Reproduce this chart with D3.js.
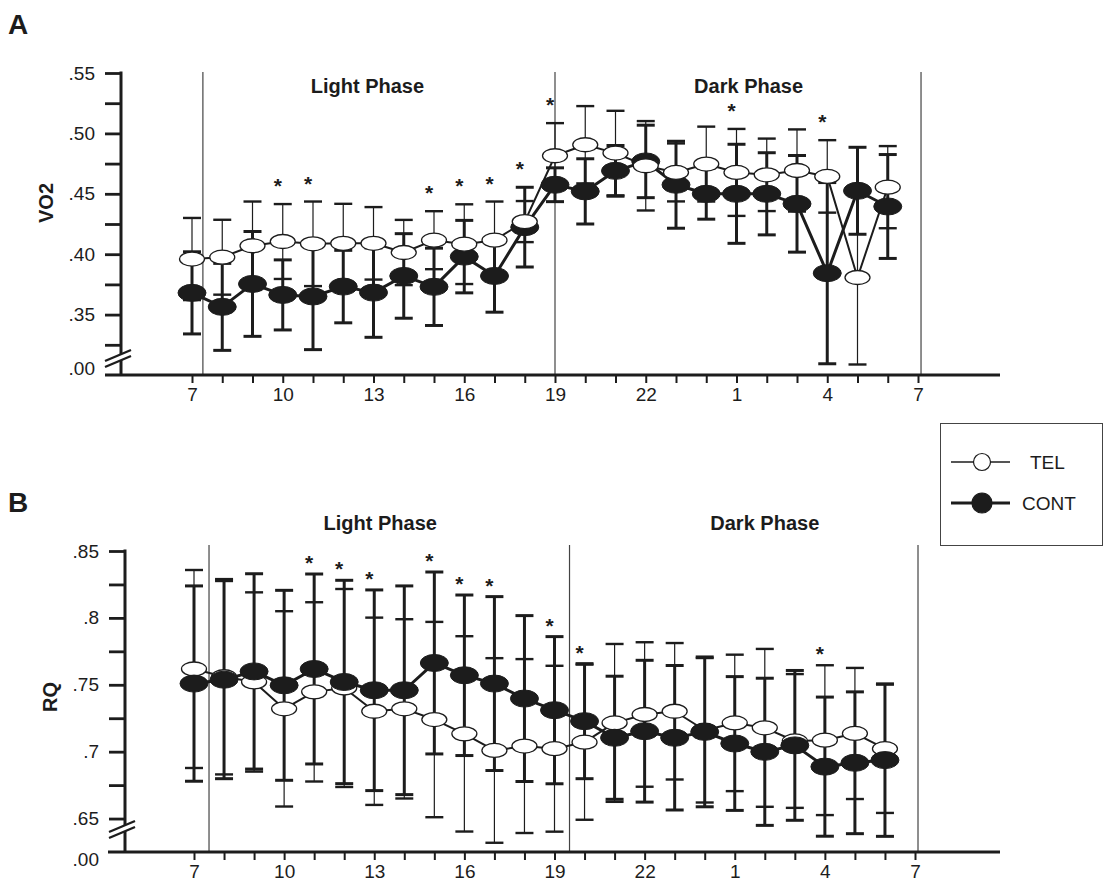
<!DOCTYPE html>
<html>
<head>
<meta charset="utf-8">
<script src="https://cdn.jsdelivr.net/npm/d3@7"></script>
<style>
  body { margin: 0; background: #fff; }
  svg { font-family: "Liberation Sans", Arial, sans-serif; }
</style>
</head>
<body>
<div id="chart"></div>
<script>
// hours of the day, 7 am to 6 am next morning
const hourLabels = [7, 8, 9, 10, 11, 12, 13, 14, 15, 16, 17, 18, 19, 20, 21, 22, 23, 0, 1, 2, 3, 4, 5, 6];
const xTickLabels = ["7", "10", "13", "16", "19", "22", "1", "4", "7"];

// panel A: VO2
const vo2Tel     = [0.396, 0.3975, 0.407, 0.4105, 0.4086, 0.409, 0.409, 0.4014, 0.4116, 0.4083, 0.4116, 0.427,
                    0.4815, 0.4906, 0.4837, 0.4732, 0.4677, 0.4746, 0.4677, 0.4657, 0.4693, 0.4644, 0.3807, 0.4555];
const vo2TelErr  = [0.034, 0.031, 0.0366, 0.031, 0.035, 0.0327, 0.030, 0.027, 0.024, 0.033, 0.032, 0.017,
                    0.027, 0.032, 0.035, 0.037, 0.024, 0.031, 0.036, 0.030, 0.034, 0.030, 0.072, 0.034];
const vo2Cont    = [0.368, 0.3564, 0.3754, 0.3663, 0.365, 0.3732, 0.3682, 0.382, 0.373, 0.398, 0.382, 0.4224,
                    0.4575, 0.452, 0.469, 0.4768, 0.4575, 0.45, 0.45, 0.45, 0.4417, 0.3843, 0.4525, 0.4395];
const vo2ContErr = [0.034, 0.036, 0.0434, 0.029, 0.044, 0.030, 0.037, 0.035, 0.032, 0.030, 0.030, 0.033,
                    0.014, 0.027, 0.021, 0.030, 0.036, 0.021, 0.041, 0.034, 0.040, 0.075, 0.036, 0.043];
const vo2Stars   = [10, 11, 15, 16, 17, 18, 19, 1, 4];
const vo2Majors  = [0.35, 0.40, 0.45, 0.50, 0.55];
const vo2Minors  = [0.325, 0.375, 0.425, 0.475, 0.525];

// panel B: RQ
const rqTel      = [0.7618, 0.756, 0.7521, 0.732, 0.7447, 0.7476, 0.7302, 0.732, 0.724, 0.7133, 0.7009, 0.7042,
                    0.7022, 0.7071, 0.7215, 0.7278, 0.7302, 0.716, 0.7215, 0.7178, 0.708, 0.7086, 0.7136, 0.7022];
const rqTelErr   = [0.074, 0.073, 0.067, 0.073, 0.067, 0.074, 0.070, 0.067, 0.073, 0.073, 0.069, 0.065,
                    0.062, 0.058, 0.059, 0.054, 0.051, 0.054, 0.051, 0.059, 0.050, 0.056, 0.049, 0.048];
const rqCont     = [0.7509, 0.7538, 0.760, 0.7496, 0.7618, 0.7521, 0.7459, 0.7459, 0.7663, 0.7571, 0.7509, 0.7397,
                    0.731, 0.7228, 0.7104, 0.7153, 0.7104, 0.7148, 0.7061, 0.6999, 0.7047, 0.6888, 0.6917, 0.6937];
const rqContErr  = [0.073, 0.074, 0.073, 0.071, 0.071, 0.076, 0.075, 0.078, 0.068, 0.060, 0.065, 0.062,
                    0.055, 0.043, 0.046, 0.053, 0.054, 0.056, 0.050, 0.055, 0.056, 0.052, 0.053, 0.057];
const rqStars    = [11, 12, 13, 15, 16, 17, 19, 20, 4];
const rqMajors   = [0.65, 0.7, 0.75, 0.8, 0.85];
const rqMinors   = [0.675, 0.725, 0.775, 0.825];

const ink = "#1c1c1c";

const svg = d3.select("#chart")
    .append("svg")
    .attr("width", 1104)
    .attr("height", 884);

function drawPanel(p) {
    const g = svg.append("g");
    const x = d3.scaleLinear().domain([0, 24]).range(p.xRange);
    const y = d3.scaleLinear().domain(p.yDomain).range([p.bottom, p.top]);

    // panel letter and y label
    g.append("text").attr("x", 8).attr("y", p.letterY)
        .attr("font-size", 28).attr("font-weight", "bold").attr("fill", ink).text(p.letter);
    g.append("text")
        .attr("transform", `translate(${p.labelX}, ${p.labelY}) rotate(-90)`)
        .attr("text-anchor", "middle").attr("dy", "0.35em")
        .attr("font-size", 20).attr("font-weight", "bold").attr("fill", ink).text(p.yLabel);

    // light / dark boundaries
    g.selectAll(".phase").data(p.phaseAt).join("line")
        .attr("x1", d => x(d)).attr("x2", d => x(d))
        .attr("y1", p.phaseTop).attr("y2", p.bottom)
        .attr("stroke", "#444").attr("stroke-width", 1.2);
    g.selectAll(".ptitle").data(p.phaseTitles).join("text")
        .attr("x", d => x(d.at)).attr("y", p.titleY)
        .attr("text-anchor", "middle").attr("font-size", 20).attr("font-weight", "bold")
        .attr("fill", ink).text(d => d.name);

    // y axis
    const yAxis = d3.axisLeft(y)
        .tickValues(p.majors.concat(p.minors))
        .tickSize(16).tickPadding(10)
        .tickFormat(d => p.majors.includes(d) ? d3.format(p.fmt)(d).replace(/^0/, "") : "");
    const ya = g.append("g").attr("transform", `translate(${p.left},0)`).call(yAxis);
    ya.select(".domain").remove();
    ya.selectAll(".tick line").attr("stroke", ink).attr("stroke-width", 2.8);
    ya.selectAll(".tick text").attr("font-size", 19).attr("fill", ink);
    g.append("line").attr("x1", p.left).attr("x2", p.left)
        .attr("y1", p.top - 1.5).attr("y2", p.bottom)
        .attr("stroke", ink).attr("stroke-width", 3);
    g.append("text").attr("x", p.left - 26).attr("y", p.zeroY)
        .attr("text-anchor", "end").attr("font-size", 19).attr("fill", ink).text(".00");

    // axis break
    const bx0 = p.left - 16, bx1 = p.left + 10, by = p.breakY;
    g.append("polygon")
        .attr("points", `${bx0},${by + 6} ${bx1},${by - 5} ${bx1},${by + 1} ${bx0},${by + 12}`)
        .attr("fill", "#fff");
    [0, 6].forEach(o => {
        g.append("line").attr("x1", bx0).attr("y1", by + 6 + o).attr("x2", bx1).attr("y2", by - 5 + o)
            .attr("stroke", ink).attr("stroke-width", 2.4);
    });

    // x axis
    const xAxis = d3.axisBottom(x)
        .tickValues(d3.range(25))
        .tickSize(8).tickPadding(5)
        .tickFormat(i => i % 3 === 0 ? xTickLabels[i / 3] : "");
    const xa = g.append("g").attr("transform", `translate(0,${p.bottom})`).call(xAxis);
    xa.select(".domain").remove();
    xa.selectAll(".tick line").attr("stroke", ink).attr("stroke-width", 2);
    xa.selectAll(".tick text").attr("font-size", 19).attr("fill", ink);
    g.append("line").attr("x1", p.axisFrom).attr("x2", p.axisTo)
        .attr("y1", p.bottom).attr("y2", p.bottom)
        .attr("stroke", ink).attr("stroke-width", 3.2);

    const series = [
        { vals: p.tel, errs: p.telErr, open: true, lw: 2, ew: 1.2, rx: 12.5, ry: 7 },
        { vals: p.cont, errs: p.contErr, open: false, lw: 3, ew: 3, rx: 14, ry: 8.5 }
    ];

    // error bars
    series.forEach(s => {
        const eb = g.append("g");
        s.vals.forEach((v, i) => {
            const lo = y(v - s.errs[i]), hi = y(v + s.errs[i]), cx = x(i);
            eb.append("line").attr("x1", cx).attr("x2", cx).attr("y1", lo).attr("y2", hi)
                .attr("stroke", ink).attr("stroke-width", s.ew);
            [lo, hi].forEach(yy => {
                eb.append("line").attr("x1", cx - 9).attr("x2", cx + 9).attr("y1", yy).attr("y2", yy)
                    .attr("stroke", ink).attr("stroke-width", s.open ? 2.4 : 3);
            });
        });
    });

    // connecting lines
    const line = d3.line().x((d, i) => x(i)).y(d => y(d));
    series.forEach(s => {
        g.append("path").attr("d", line(s.vals))
            .attr("fill", "none").attr("stroke", ink).attr("stroke-width", s.lw)
            .attr("stroke-linejoin", "round");
    });

    // markers, order decides which sits on top
    const order = p.contOnTop ? [series[0], series[1]] : [series[1], series[0]];
    order.forEach(s => {
        g.append("g").selectAll("ellipse").data(s.vals).join("ellipse")
            .attr("cx", (d, i) => x(i)).attr("cy", d => y(d))
            .attr("rx", s.rx).attr("ry", s.ry)
            .attr("fill", s.open ? "#fff" : ink)
            .attr("stroke", ink).attr("stroke-width", s.open ? 1.3 : 1);
    });

    // significance marks
    g.selectAll(".star").data(p.stars).join("text")
        .attr("x", h => x(hourLabels.indexOf(h)) - 5)
        .attr("y", h => {
            const i = hourLabels.indexOf(h);
            const top = Math.max(p.tel[i] + p.telErr[i], p.cont[i] + p.contErr[i]);
            return y(top) - p.starGap + 11;
        })
        .attr("text-anchor", "middle").attr("font-size", 21).attr("font-weight", "bold")
        .attr("fill", ink).text("*");
}

drawPanel({
    letter: "A", letterY: 34, yLabel: "VO2", labelX: 46, labelY: 203,
    left: 121, top: 73, bottom: 375, yDomain: [0.30, 0.55],
    xRange: [192, 918], axisFrom: 105, axisTo: 1000,
    majors: vo2Majors, minors: vo2Minors, fmt: ".2f", zeroY: 375,
    breakY: 355, phaseAt: [0.36, 12, 24.1], phaseTop: 72,
    phaseTitles: [{ name: "Light Phase", at: 5.8 }, { name: "Dark Phase", at: 18.4 }], titleY: 93,
    tel: vo2Tel, telErr: vo2TelErr, cont: vo2Cont, contErr: vo2ContErr,
    stars: vo2Stars, starGap: 22, contOnTop: false
});

drawPanel({
    letter: "B", letterY: 512, yLabel: "RQ", labelX: 50, labelY: 697,
    left: 125, top: 551, bottom: 852, yDomain: [0.625, 0.85],
    xRange: [194, 915], axisFrom: 108, axisTo: 1000,
    majors: rqMajors, minors: rqMinors, fmt: ".2~f", zeroY: 866,
    breakY: 826, phaseAt: [0.5, 12.5, 24.1], phaseTop: 545,
    phaseTitles: [{ name: "Light Phase", at: 6.2 }, { name: "Dark Phase", at: 19.0 }], titleY: 530,
    tel: rqTel, telErr: rqTelErr, cont: rqCont, contErr: rqContErr,
    stars: rqStars, starGap: 15, contOnTop: true
});

// legend
const legend = svg.append("g");
legend.append("rect").attr("x", 940.5).attr("y", 423.5).attr("width", 162).attr("height", 122)
    .attr("fill", "#fff").attr("stroke", "#444").attr("stroke-width", 1);
const legendItems = [
    { name: "TEL", open: true, y: 462, lw: 1.3, tx: 1030 },
    { name: "CONT", open: false, y: 503, lw: 3, tx: 1022 }
];
legendItems.forEach(d => {
    legend.append("line").attr("x1", 951).attr("x2", 1010).attr("y1", d.y).attr("y2", d.y)
        .attr("stroke", ink).attr("stroke-width", d.lw);
    legend.append("circle").attr("cx", 982).attr("cy", d.y).attr("r", d.open ? 8.5 : 10)
        .attr("fill", d.open ? "#fff" : ink).attr("stroke", ink).attr("stroke-width", 1.2);
    legend.append("text").attr("x", d.tx).attr("y", d.y).attr("dy", "0.35em")
        .attr("font-size", 19).attr("fill", ink).text(d.name);
});
</script>
</body>
</html>
